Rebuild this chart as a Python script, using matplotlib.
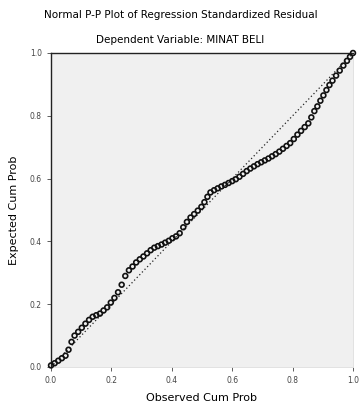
import matplotlib
matplotlib.use("Agg")
import matplotlib.pyplot as plt
import numpy as np

# observed vs expected cumulative probability
observed = [0.000, 0.012, 0.024, 0.036, 0.048, 0.058, 0.068, 0.078, 0.090, 0.102,
            0.114, 0.126, 0.138, 0.150, 0.162, 0.174, 0.186, 0.198, 0.210, 0.222,
            0.234, 0.246, 0.258, 0.270, 0.282, 0.294, 0.306, 0.318, 0.330, 0.342,
            0.354, 0.366, 0.378, 0.390, 0.402, 0.414, 0.426, 0.438, 0.450, 0.462,
            0.474, 0.486, 0.498, 0.508, 0.518, 0.528, 0.540, 0.552, 0.564, 0.576,
            0.588, 0.600, 0.612, 0.624, 0.636, 0.648, 0.660, 0.672, 0.684, 0.696,
            0.708, 0.720, 0.732, 0.744, 0.756, 0.768, 0.780, 0.792, 0.804, 0.816,
            0.828, 0.840, 0.852, 0.862, 0.872, 0.882, 0.892, 0.902, 0.912, 0.922,
            0.932, 0.944, 0.956, 0.968, 0.980, 0.990, 1.000]
expected = [0.005, 0.012, 0.020, 0.028, 0.036, 0.055, 0.080, 0.100, 0.112, 0.125,
            0.138, 0.150, 0.160, 0.165, 0.170, 0.180, 0.190, 0.205, 0.220, 0.238,
            0.262, 0.290, 0.308, 0.320, 0.333, 0.343, 0.352, 0.362, 0.372, 0.380,
            0.385, 0.390, 0.396, 0.402, 0.410, 0.416, 0.426, 0.445, 0.462, 0.476,
            0.487, 0.498, 0.510, 0.525, 0.542, 0.556, 0.563, 0.569, 0.575, 0.580,
            0.586, 0.592, 0.598, 0.606, 0.615, 0.624, 0.632, 0.639, 0.646, 0.652,
            0.658, 0.664, 0.671, 0.678, 0.686, 0.695, 0.704, 0.713, 0.726, 0.740,
            0.752, 0.764, 0.776, 0.795, 0.815, 0.830, 0.848, 0.865, 0.882, 0.898,
            0.912, 0.928, 0.944, 0.960, 0.975, 0.988, 1.000]
ticks = [0.0, 0.2, 0.4, 0.6, 0.8, 1.0]
tick_labels = ["0.0", "0.2", "0.4", "0.6", "0.8", "1.0"]

fig = plt.figure(figsize=(3.61, 4.05), dpi=100)
ax = fig.add_axes([51 / 361, 38 / 405, 302 / 361, 314 / 405])
ax.set_facecolor("#f0f0f0")

# reference diagonal
ax.plot([0, 1], [0, 1], color="#222222", linestyle=(0, (1, 2)), linewidth=0.9)

ax.scatter(observed, expected, s=12, facecolors="none", edgecolors="#111111",
           linewidths=1.2, zorder=3, clip_on=False)

ax.set_xlim(0, 1)
ax.set_ylim(0, 1)
ax.set_xticks(ticks)
ax.set_xticklabels(tick_labels)
ax.set_yticks(ticks)
ax.set_yticklabels(tick_labels)
ax.tick_params(labelsize=5.5, length=3, width=0.6, colors="#444444")

for side in ["left", "top"]:
    ax.spines[side].set_color("#222222")
    ax.spines[side].set_linewidth(1.0)
for side in ["right", "bottom"]:
    ax.spines[side].set_color("#dddddd")
    ax.spines[side].set_linewidth(0.6)

ax.set_xlabel("Observed Cum Prob", fontsize=8, labelpad=6)
ax.set_ylabel("Expected Cum Prob", fontsize=8, labelpad=8)

fig.text(0.5, 1 - 15 / 405, "Normal P-P Plot of Regression Standardized Residual",
         ha="center", va="center", fontsize=7.5)
fig.text(0.5, 1 - 40 / 405, "Dependent Variable: MINAT BELI",
         ha="center", va="center", fontsize=7.5)

fig.savefig("out.png", dpi=100)
